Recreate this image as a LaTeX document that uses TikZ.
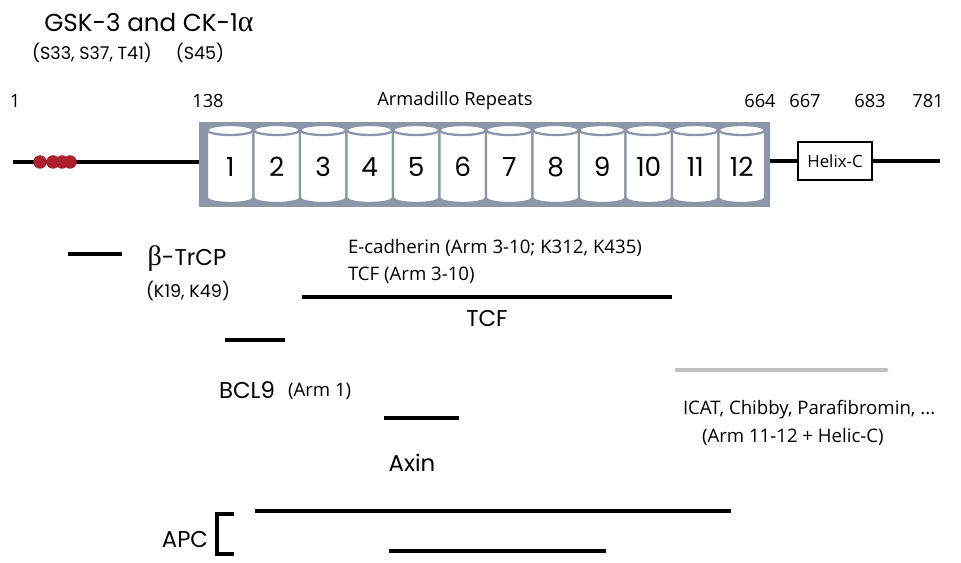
\documentclass[tikz,border=0pt]{standalone}
\usepackage{fontspec}
\setmainfont{Open Sans}
\newfontfamily\geofont{Poppins}
\newfontfamily\grkfont{Liberation Serif}
\usetikzlibrary{positioning}
\definecolor{armgray}{RGB}{141,149,168}
\definecolor{siteRed}{RGB}{170,32,48}
\definecolor{barGray}{RGB}{192,192,192}

\begin{document}
\begin{tikzpicture}[
  x=0.02cm, y=-0.02cm,
  every node/.style={inner sep=0pt, outer sep=0pt},
  resnum/.style={font=\fontsize{10.4}{12}\selectfont},
  note/.style={font=\fontsize{10.6}{12}\selectfont, anchor=west},
  site/.style={font=\geofont\fontsize{10}{12}\selectfont},
  titlelab/.style={font=\geofont\fontsize{14}{16}\selectfont},
  big/.style={font=\geofont\fontsize{13}{15}\selectfont},
  cylnum/.style={font=\geofont\fontsize{15}{16}\selectfont},
  backbone/.style={line width=2pt},
  bar/.style={line width=2.2pt},
  cyl/.style={draw=armgray, line width=1.3pt, fill=white},
  phos/.style={circle, fill=siteRed, minimum size=0.27cm},
  armbox/.style={rectangle, fill=armgray, minimum width=11.42cm, minimum height=1.7cm},
  helix/.style={rectangle, draw, line width=1.6pt, fill=white, minimum width=1.48cm, minimum height=0.76cm, font=\fontsize{9.6}{11}\selectfont}
]
  \useasboundingbox (0,0) rectangle (961,563);

  % kinases and sites
  \node[titlelab] (kin) at (149,23) {GSK-3 and CK-1{\grkfont\fontsize{17}{18}\selectfont α}};
  \node[site] (s33) at (92,53) {(S33, S37, T41)};
  \node[site] (s45) at (200,53) {(S45)};

  % residue numbers
  \node[resnum] (n1) at (15,101) {1};
  \node[resnum] (n138) at (208,101) {138};
  \node[resnum] (armlab) at (455,101) {Armadillo Repeats};
  \node[resnum] (n664) at (760,101) {664};
  \node[resnum] (n667) at (805,101) {667};
  \node[resnum] (n683) at (870,101) {683};
  \node[resnum] (n781) at (928,101) {781};

  % backbone
  \coordinate (nterm) at (13,162);
  \coordinate (cterm) at (940,161);
  \node[armbox] (arm) at (484.5,164.5) {};
  \node[helix] (helixc) at (835,161) {Helix-C};
  \draw[backbone] (nterm) -- (nterm -| arm.west);
  \draw[backbone] (helixc.west -| arm.east) -- (helixc.west);
  \draw[backbone] (helixc.east) -- (cterm);

  \foreach \i in {1,...,12} {
    \pgfmathsetmacro\xl{207+(\i-1)*46.5}
    \path[cyl] (\xl,130) -- (\xl,198)
      arc[start angle=180, end angle=0, x radius=23.25, y radius=5]
      -- (\xl+46.5,130)
      arc[start angle=360, end angle=180, x radius=23.25, y radius=5] -- cycle;
    \draw[armgray, line width=1.3pt] (\xl,130)
      arc[start angle=180, end angle=0, x radius=23.25, y radius=5];
    \node[cylnum] (rep\i) at (\xl+23.25,167) {\i};
  }

  \foreach \x [count=\k] in {40,53,62,70}
    \node[phos] (p\k) at (\x,162) {};

  % binding partners
  \coordinate (trcpA) at (68,254);
  \coordinate (trcpB) at (122,254);
  \draw[bar] (trcpA) -- (trcpB);
  \node[big] (trcp) at (187,259) {{\grkfont\fontsize{16}{18}\selectfont β}-TrCP};
  \node[site] (k19) at (188,291) {(K19, K49)};

  \node[note] (ecad) at (348,248) {E-cadherin (Arm 3-10; K312, K435)};
  \node[note] (tcfarm) at (348,275) {TCF (Arm 3-10)};
  \coordinate (tcfA) at (302,297);
  \coordinate (tcfB) at (672,297);
  \draw[bar] (tcfA) -- (tcfB);
  \node[big] (tcf) at (487,319) {TCF};

  \coordinate (bclA) at (225,340);
  \coordinate (bclB) at (285,340);
  \draw[bar] (bclA) -- (bclB);
  \node[big] (bcl9) at (247,390) {BCL9};
  \node[note] (arm1) at (288,391) {(Arm 1)};

  \coordinate (axinA) at (384,418);
  \coordinate (axinB) at (459,418);
  \draw[bar] (axinA) -- (axinB);
  \node[big] (axin) at (412,463) {Axin};

  \coordinate (icatA) at (677,370);
  \coordinate (icatB) at (886,370);
  \draw[barGray, line width=2.8pt, line cap=round] (icatA) -- (icatB);
  \node[note] (icat) at (683,410) {ICAT, Chibby, Parafibromin, ...};
  \node[note] (helic) at (702,437) {(Arm 11-12 + Helic-C)};

  % APC
  \coordinate (apcA) at (255,511);
  \coordinate (apcB) at (731,511);
  \coordinate (apcC) at (389,551);
  \coordinate (apcD) at (606,551);
  \draw[bar] (apcA) -- (apcB);
  \draw[bar] (apcC) -- (apcD);
  \coordinate (brT) at (234,514);
  \coordinate (brB) at (234,554);
  \draw[bar] (brT) -- ++(-17,0) |- (brB);
  \node[big] (apc) at (185,540) {APC};
\end{tikzpicture}
\end{document}
